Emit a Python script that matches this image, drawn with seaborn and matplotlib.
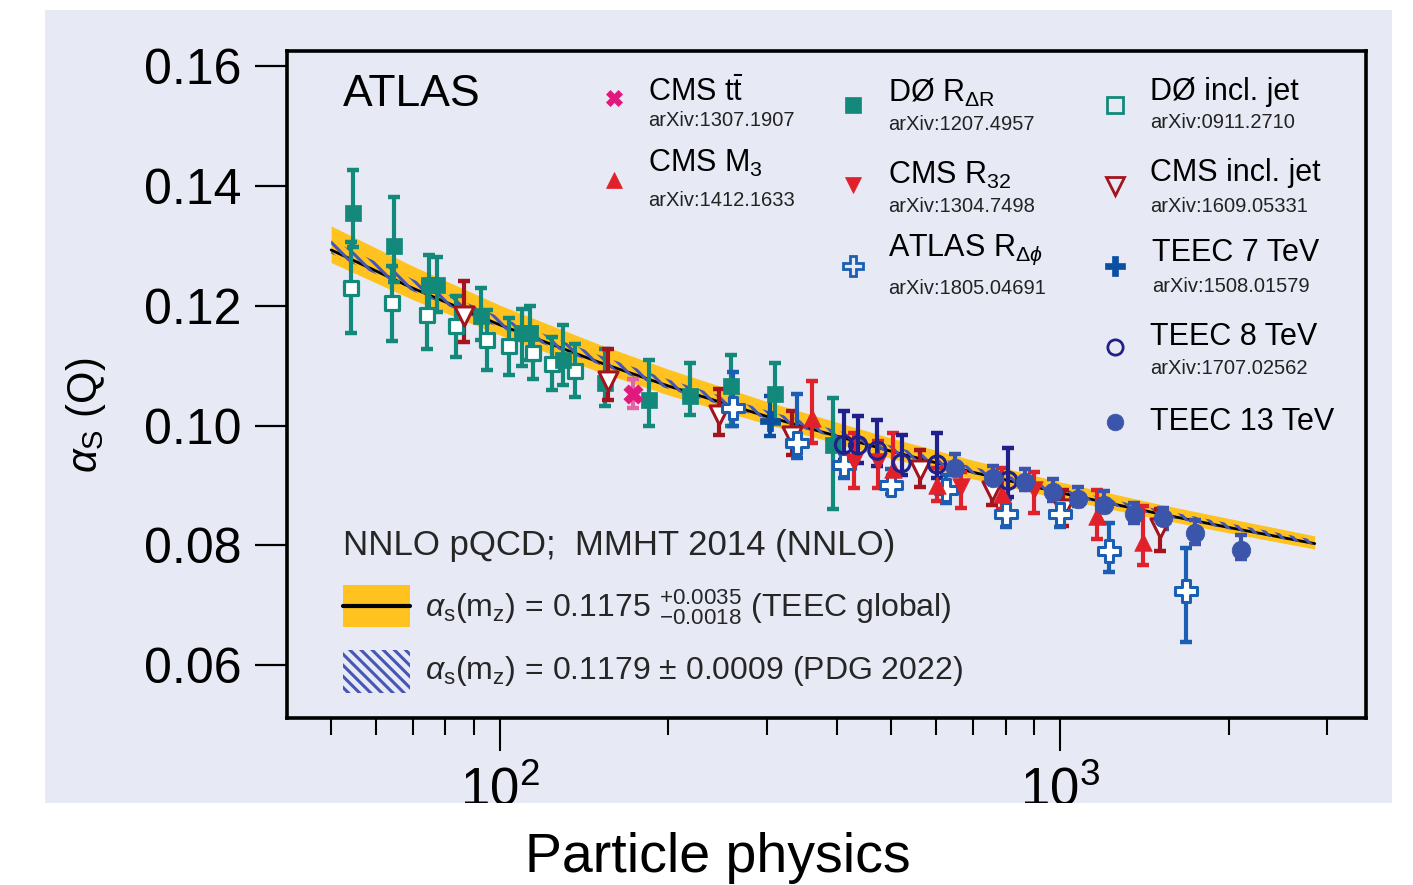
import numpy as np
import pandas as pd
import matplotlib
matplotlib.use("Agg")
import matplotlib.pyplot as plt
import matplotlib.ticker as mticker
from matplotlib.patches import Rectangle
from matplotlib.lines import Line2D
import seaborn as sns

# ---------------- data ----------------
# theory band: NNLO pQCD, alpha_s(mZ)=0.1175 (+0.0035 -0.0018)
band_q   = [50, 70, 100, 150, 200, 300, 500, 700, 1000, 1500, 2000, 2850]
band_mid = [0.1293, 0.1229, 0.1168, 0.1106, 0.1066, 0.1015, 0.0957, 0.0922, 0.0888, 0.0853, 0.0830, 0.0803]
band_hi  = [0.1333, 0.1266, 0.1201, 0.1136, 0.1094, 0.1040, 0.0979, 0.0942, 0.0906, 0.0869, 0.0845, 0.0816]
band_lo  = [0.1272, 0.1210, 0.1151, 0.1090, 0.1051, 0.1002, 0.0945, 0.0911, 0.0878, 0.0844, 0.0821, 0.0794]
# PDG 2022 band
pdg_lo = [0.1287, 0.1224, 0.1163, 0.1102, 0.1061, 0.1011, 0.0954, 0.0919, 0.0885, 0.0850, 0.0827, 0.0801]
pdg_hi = [0.1309, 0.1244, 0.1181, 0.1118, 0.1077, 0.1025, 0.0966, 0.0931, 0.0895, 0.0860, 0.0837, 0.0809]

# D0 R_dR
d0r_q  = [54.7, 64.8, 74.8, 77.1, 92.4, 109.6, 113.0, 129.8, 154.0, 184.8, 219.0, 259.0, 310.0, 393.6]
d0r_a  = [0.1354, 0.1300, 0.1235, 0.1235, 0.1182, 0.1155, 0.1155, 0.1110, 0.1071, 0.1043, 0.1050, 0.1066, 0.1052, 0.0968]
d0r_up = [0.0073, 0.0081, 0.0050, 0.0047, 0.0047, 0.0040, 0.0045, 0.0058, 0.0056, 0.0066, 0.0055, 0.0052, 0.0053, 0.0078]
d0r_dn = [0.0056, 0.0060, 0.0050, 0.0045, 0.0039, 0.0055, 0.0045, 0.0042, 0.0039, 0.0043, 0.0033, 0.0067, 0.0050, 0.0108]
# D0 incl. jet
d0i_q  = [54.2, 64.1, 74.0, 83.7, 94.7, 103.9, 114.4, 123.7, 136.1]
d0i_a  = [0.1230, 0.1205, 0.1185, 0.1166, 0.1143, 0.1132, 0.1121, 0.1103, 0.1091]
d0i_up = [0.0077, 0.0062, 0.0055, 0.0051, 0.0050, 0.0047, 0.0042, 0.0045, 0.0045]
d0i_dn = [0.0075, 0.0064, 0.0057, 0.0051, 0.0050, 0.0047, 0.0044, 0.0043, 0.0043]
# CMS ttbar
tt_q  = [173.0]
tt_a  = [0.1052]
tt_up = [0.0025]
tt_dn = [0.0022]
# CMS incl. jet
cmsi_q  = [86.2, 156.1, 246.4, 332.7, 563.0, 757.9, 1012.5, 1508.6]
cmsi_a  = [0.1183, 0.1074, 0.1018, 0.0982, 0.0926, 0.0890, 0.0860, 0.0829]
cmsi_up = [0.0059, 0.0053, 0.0043, 0.0042, 0.0034, 0.0027, 0.0033, 0.0031]
cmsi_dn = [0.0043, 0.0032, 0.0033, 0.0031, 0.0029, 0.0023, 0.0027, 0.0039]
# CMS R32
r32_q  = [428.7, 473.8, 665.8, 898.6]
r32_a  = [0.0940, 0.0940, 0.0897, 0.0893]
r32_up = [0.0047, 0.0035, 0.0026, 0.0030]
r32_dn = [0.0044, 0.0044, 0.0035, 0.0039]
# CMS M3
m3_q  = [360.2, 502.6, 603.9, 787.0, 1163.0, 1405.0]
m3_a  = [0.1013, 0.0927, 0.0900, 0.0885, 0.0849, 0.0805]
m3_up = [0.0061, 0.0061, 0.0030, 0.0045, 0.0044, 0.0060]
m3_dn = [0.0042, 0.0025, 0.0026, 0.0025, 0.0039, 0.0037]
# ATLAS R_dphi
rdp_q  = [261.0, 338.8, 411.5, 498.5, 625.8, 801.9, 1002.0, 1224.0, 1679.0]
rdp_a  = [0.1029, 0.0971, 0.0935, 0.0900, 0.0892, 0.0852, 0.0852, 0.0790, 0.0724]
rdp_up = [0.0061, 0.0081, 0.0020, 0.0027, 0.0026, 0.0025, 0.0022, 0.0047, 0.0071]
rdp_dn = [0.0030, 0.0025, 0.0022, 0.0015, 0.0021, 0.0022, 0.0022, 0.0035, 0.0085]
# TEEC 7 TeV
t7_q  = [304.3]
t7_a  = [0.1007]
t7_up = [0.0043]
t7_dn = [0.0025]
# TEEC 8 TeV
t8_q  = [411.5, 436.3, 472.2, 521.6, 603.9, 809.0]
t8_a  = [0.0968, 0.0967, 0.0958, 0.0937, 0.0935, 0.0908]
t8_up = [0.0056, 0.0049, 0.0052, 0.0048, 0.0053, 0.0055]
t8_dn = [0.0025, 0.0030, 0.0026, 0.0019, 0.0022, 0.0028]
# TEEC 13 TeV
t13_q  = [649.4, 759.2, 867.9, 972.8, 1078.0, 1198.0, 1356.0, 1526.0, 1742.0, 2102.0]
t13_a  = [0.0930, 0.0913, 0.0906, 0.0889, 0.0877, 0.0868, 0.0853, 0.0845, 0.0821, 0.0793]
t13_up = [0.0022, 0.0019, 0.0021, 0.0021, 0.0021, 0.0022, 0.0018, 0.0018, 0.0022, 0.0024]
t13_dn = [0.0013, 0.0017, 0.0013, 0.0015, 0.0012, 0.0012, 0.0015, 0.0017, 0.0019, 0.0015]

y_ticks = [0.06, 0.08, 0.10, 0.12, 0.14, 0.16]

# ---------------- style ----------------
sns.set_theme(style="ticks")
plt.rcParams["font.family"] = ["Liberation Sans", "DejaVu Sans"]
plt.rcParams["mathtext.fontset"] = "custom"
plt.rcParams["mathtext.rm"] = "Liberation Sans"
plt.rcParams["mathtext.it"] = "Liberation Sans:italic"
plt.rcParams["mathtext.bf"] = "Liberation Sans:bold"
plt.rcParams["hatch.linewidth"] = 2.2
HATCH = "#4656B4"
plt.rcParams["hatch.color"] = HATCH

BG = "#E7EAF5"
YEL = "#FFC21E"
TEAL = "#12897A"
PINK = "#E01A7C"
RED = "#E0212A"
DRED = "#A3141E"
BLUE = "#1A5FB4"
BLUE7 = "#0B4FA2"
NAVY = "#20208A"
BLUE13 = "#3B55AA"

W, H = 1413, 885
def fx(x):
    return x / W
def fy(y):
    return 1 - y / H

fig = plt.figure(figsize=(W / 100, H / 100), dpi=100)
fig.patch.set_facecolor("white")
fig.add_artist(Rectangle((fx(45), fy(803)), fx(1392) - fx(45), fy(10) - fy(803),
                         transform=fig.transFigure, facecolor=BG, edgecolor="none", zorder=-10))

ax = fig.add_axes([fx(287), fy(718), fx(1366) - fx(287), fy(51) - fy(718)])
ax.set_facecolor(BG)
ax.set_xscale("log")

# bands
ax.fill_between(band_q, band_lo, band_hi, color=YEL, lw=0, zorder=1)
sns.lineplot(x=band_q, y=band_mid, color="black", lw=2.0, ax=ax, zorder=2, sort=False)
ax.fill_between(band_q, pdg_lo, pdg_hi, facecolor="none", edgecolor=HATCH, hatch="\\\\\\", lw=0, zorder=2.5)

series = [
    (d0i_q, d0i_a, d0i_dn, d0i_up, dict(marker="s", s=115, fc="white", ec=TEAL, lw=2.3), TEAL),
    (d0r_q, d0r_a, d0r_dn, d0r_up, dict(marker="s", s=140, fc=TEAL, ec=TEAL, lw=0.5), TEAL),
    (cmsi_q, cmsi_a, cmsi_dn, cmsi_up, dict(marker="v", s=190, fc="white", ec=DRED, lw=2.2), DRED),
    (tt_q, tt_a, tt_dn, tt_up, dict(marker="X", s=190, fc=PINK, ec=PINK, lw=0.5), "#E066A8"),
    (rdp_q, rdp_a, rdp_dn, rdp_up, dict(marker="P", s=250, fc="white", ec=BLUE, lw=2.2), BLUE),
    (t7_q, t7_a, t7_dn, t7_up, dict(marker="P", s=220, fc=BLUE7, ec=BLUE7, lw=0.5), BLUE7),
    (m3_q, m3_a, m3_dn, m3_up, dict(marker="^", s=160, fc=RED, ec=RED, lw=0.5), RED),
    (r32_q, r32_a, r32_dn, r32_up, dict(marker="v", s=160, fc=RED, ec=RED, lw=0.5), RED),
    (t8_q, t8_a, t8_dn, t8_up, dict(marker="o", s=150, fc="none", ec=NAVY, lw=2.3), NAVY),
    (t13_q, t13_a, t13_dn, t13_up, dict(marker="o", s=180, fc=BLUE13, ec=BLUE13, lw=0.5), BLUE13),
]
for q, a, dn, up, mk, ecol in series:
    ax.errorbar(q, a, yerr=[dn, up], fmt="none", ecolor=ecol, elinewidth=3.0,
                capsize=4, capthick=3.2, zorder=3)
    df = pd.DataFrame({"Q": q, "alpha": a})
    sns.scatterplot(data=df, x="Q", y="alpha", marker=mk["marker"], s=mk["s"],
                    facecolor=mk["fc"], edgecolor=mk["ec"], linewidth=mk["lw"],
                    ax=ax, zorder=4, legend=False)

# axes
ax.set_xlim(41.7, 3519)
ax.set_ylim(0.0512, 0.1625)
ax.set_yticks(y_ticks)
ax.yaxis.set_major_formatter(mticker.FormatStrFormatter("%.2f"))
ax.set_xticks([100, 1000])
ax.xaxis.set_major_formatter(mticker.LogFormatterSciNotation())
ax.set_xticks([50, 60, 70, 80, 90, 200, 300, 400, 500, 600, 700, 800, 900, 2000, 3000], minor=True)
ax.xaxis.set_minor_formatter(mticker.NullFormatter())
ax.tick_params(axis="y", which="major", direction="out", length=23, width=1.6,
               labelsize=36, pad=10, colors="black", left=True, right=False)
ax.tick_params(axis="x", which="major", direction="out", length=24, width=1.5,
               labelsize=38, pad=11, colors="black", bottom=True, top=False)
ax.tick_params(axis="x", which="minor", direction="out", length=12, width=1.5,
               colors="black", bottom=True, top=False)
for sp in ax.spines.values():
    sp.set_visible(True)
    sp.set_color("black")
    sp.set_linewidth(2.6)
ax.set_xlabel("")
ax.set_ylabel(r"$\alpha_{\mathrm{S}}$ (Q)", fontsize=30, color="black")
ax.yaxis.set_label_coords(-0.166, 0.454)

# ATLAS label
fig.text(fx(343), fy(95), "ATLAS", fontsize=32, va="center", ha="left", color="black")

# legend (upper)
leg_entries = [
    (614, 98, 648, 93, r"CMS t$\bar{\mathrm{t}}$", 121, "arXiv:1307.1907",
     dict(marker="X", ms=12, mfc=PINK, mec=PINK, mew=0.5)),
    (614, 180, 648, 163, r"CMS M$_3$", 201, "arXiv:1412.1633",
     dict(marker="^", ms=11, mfc=RED, mec=RED, mew=0.5)),
    (853, 105, 888, 93, r"DØ R$_{\Delta\mathrm{R}}$", 125, "arXiv:1207.4957",
     dict(marker="s", ms=11, mfc=TEAL, mec=TEAL, mew=0.5)),
    (853, 185, 888, 175, r"CMS R$_{32}$", 207, "arXiv:1304.7498",
     dict(marker="v", ms=11, mfc=RED, mec=RED, mew=0.5)),
    (853, 266, 888, 250, r"ATLAS R$_{\Delta\phi}$", 289, "arXiv:1805.04691",
     dict(marker="P", ms=15, mfc="none", mec=BLUE, mew=2)),
    (1115, 105, 1150, 92, "DØ incl. jet", 123, "arXiv:0911.2710",
     dict(marker="s", ms=11, mfc="none", mec=TEAL, mew=2)),
    (1115, 186, 1150, 173, "CMS incl. jet", 207, "arXiv:1609.05331",
     dict(marker="v", ms=13, mfc="none", mec=DRED, mew=2)),
    (1115, 266, 1152, 253, "TEEC 7 TeV", 287, "arXiv:1508.01579",
     dict(marker="P", ms=15, mfc=BLUE7, mec=BLUE7, mew=0.5)),
    (1115, 347, 1150, 337, "TEEC 8 TeV", 369, "arXiv:1707.02562",
     dict(marker="o", ms=11, mfc="none", mec=NAVY, mew=2)),
    (1115, 422, 1150, 422, "TEEC 13 TeV", None, None,
     dict(marker="o", ms=12, mfc=BLUE13, mec=BLUE13, mew=0.5)),
]
for mx, my, tx, ty, title, ay, arx, mk in leg_entries:
    fig.add_artist(Line2D([fx(mx)], [fy(my)], transform=fig.transFigure,
                          linestyle="none", **mk))
    fig.text(fx(tx), fy(ty), title, fontsize=22, va="center", ha="left", color="black")
    if arx:
        fig.text(fx(tx), fy(ay), arx, fontsize=14.5, va="center", ha="left", color="#222222")

# legend (lower)
fig.text(fx(343), fy(545), "NNLO pQCD;  MMHT 2014 (NNLO)", fontsize=25, va="center", ha="left")
fig.add_artist(Rectangle((fx(343), fy(627)), fx(410) - fx(343), fy(585) - fy(627),
                         transform=fig.transFigure, facecolor=YEL, edgecolor="none"))
fig.add_artist(Line2D([fx(343), fx(410)], [fy(606), fy(606)], transform=fig.transFigure,
                      color="black", lw=3))
fig.text(fx(425), fy(607),
         r"$\alpha_{\mathrm{s}}(\mathrm{m_z})$ = 0.1175 $^{+0.0035}_{-0.0018}$ (TEEC global)",
         fontsize=23, va="center", ha="left")
fig.add_artist(Rectangle((fx(343), fy(693)), fx(410) - fx(343), fy(650) - fy(693),
                         transform=fig.transFigure, facecolor="none", edgecolor=HATCH,
                         hatch="\\\\\\", lw=0))
fig.text(fx(425), fy(671),
         r"$\alpha_{\mathrm{s}}(\mathrm{m_z})$ = 0.1179 ± 0.0009 (PDG 2022)",
         fontsize=23, va="center", ha="left")

# white caption strip (covers bottom of tick labels like the reference)
fig.add_artist(Rectangle((0, 0), 1, fy(803), transform=fig.transFigure,
                         facecolor="white", edgecolor="none", zorder=5))
fig.text(fx(718), fy(872), "Particle physics", fontsize=40, ha="center", va="baseline",
         color="black", zorder=6)

fig.savefig("out.png", dpi=100, facecolor="white")
